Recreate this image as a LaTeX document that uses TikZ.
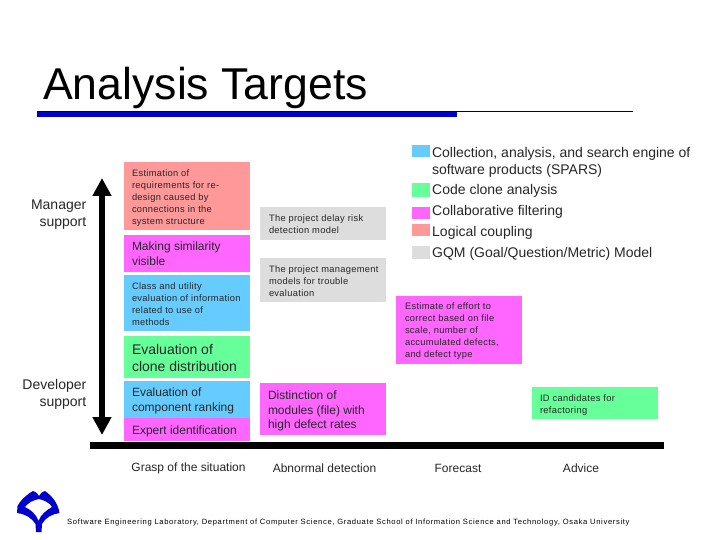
\documentclass[tikz,border=0pt]{standalone}
\usepackage{fontspec}
\setmainfont{Liberation Sans}
\usetikzlibrary{arrows.meta}
\definecolor{cpink}{HTML}{FF9999}
\definecolor{cmag}{HTML}{FF66FF}
\definecolor{cblue}{HTML}{66CCFF}
\definecolor{cgreen}{HTML}{66FF99}
\definecolor{cgray}{HTML}{DDDDDD}
\definecolor{cbar}{HTML}{0000CC}
\definecolor{cline}{HTML}{000033}
\tikzset{
 x=1pt,y=-1pt,
 tbox/.style={anchor=north west,inner sep=0pt,outer sep=0pt,text=black!85,align=left},
 small/.style={tbox,font=\fontsize{9.3}{12}\selectfont\addfontfeatures{LetterSpace=3.5}},
 large/.style={tbox,font=\fontsize{12}{15}\selectfont},
 mid/.style={tbox,font=\fontsize{12}{14.5}\selectfont},
 big/.style={tbox,font=\fontsize{14}{17}\selectfont},
 legend/.style={anchor=west,inner sep=0pt,text=black!85,align=left,font=\fontsize{14}{17}\selectfont},
 side/.style={anchor=east,inner sep=0pt,align=right,text=black!85,font=\fontsize{14}{17}\selectfont},
 axlabel/.style={anchor=center,inner sep=0pt,text=black!85,font=\fontsize{12}{14}\selectfont},
 axisline/.style={line width=7pt},
 bothway/.style={line width=5.5pt,{Triangle[length=18pt,width=18pt]}-{Triangle[length=18pt,width=18pt]}}
}
\begin{document}
\begin{tikzpicture}
\useasboundingbox (0,0) rectangle (720,540);
% title
\node[anchor=base west,inner sep=0pt,font=\fontsize{44.6}{50}\selectfont] (title) at (43,100) {Analysis Targets};
\coordinate (tl) at (37,111); \coordinate (tr) at (633,111);
\coordinate (bl) at (37,114.5); \coordinate (br) at (457,114.5);
\draw[cline,line width=0.8pt] (tl) -- (tr);
\draw[cbar,line width=5.5pt] (bl) -- (br);
% boxes column 1
\fill[cpink] (124,162) rectangle (250,230);
\fill[cmag] (124,235) rectangle (250,272);
\fill[cblue] (124,275) rectangle (250,331);
\fill[cgreen] (124,336) rectangle (250,378);
\fill[cblue] (124,381) rectangle (250,418);
\fill[cmag] (124,418) rectangle (250,441);
\node[small] (a1) at (132,170) {Estimation of\\requirements for re-\\design caused by\\connections in the\\system structure};
\node[large] (a2) at (132,242) {Making similarity\\visible};
\node[small] (a3) at (132,283) {Class and utility\\evaluation of information\\related to use of\\methods};
\node[big] (a4) at (132,344) {Evaluation of\\clone distribution};
\node[large] (a5) at (132,388) {Evaluation of\\component ranking};
\node[mid] (a6) at (132,426) {Expert identification};
% column 2
\fill[cgray] (260,207) rectangle (386,240);
\fill[cgray] (260,258) rectangle (386,302);
\fill[cmag] (260,383) rectangle (386,435);
\node[small] (b1) at (269,215) {The project delay risk\\detection model};
\node[small] (b2) at (269,266) {The project management\\models for trouble\\evaluation};
\node[mid] (b3) at (268,391) {Distinction of\\modules (file) with\\high defect rates};
% column 3, 4
\fill[cmag] (396,296) rectangle (522,364);
\node[small] (c1) at (405,303) {Estimate of effort to\\correct based on file\\scale, number of\\accumulated defects,\\and defect type};
\fill[cgreen] (532,387) rectangle (658,419);
\node[small] (d1) at (540,395) {ID candidates for\\refactoring};
% legend
\fill[cblue] (412,145) rectangle (430,157);
\fill[cgreen] (412,183) rectangle (430,197);
\fill[cmag] (412,207) rectangle (430,219);
\fill[cpink] (412,224) rectangle (430,236);
\fill[cgray] (412,246) rectangle (430,259);
\node[big] (l1) at (432,147) {Collection, analysis, and search engine of\\software products (SPARS)};
\node[legend] (l2) at (432,191) {Code clone analysis};
\node[legend] (l3) at (432,212) {Collaborative filtering};
\node[legend] (l4) at (432,233) {Logical coupling};
\node[legend] (l5) at (432,254) {GQM (Goal/Question/Metric) Model};
% side labels
\node[side] (mgr) at (86.5,214.5) {Manager\\support};
\node[side] (dev) at (86.5,394.5) {Developer\\support};
% axes
\coordinate (ut) at (102,178); \coordinate (ub) at (102,435);
\draw[bothway] (ut) -- (ub);
\coordinate (al) at (90,445.5); \coordinate (ar) at (664,445.5);
\draw[axisline] (al) -- (ar);
% bottom labels
\node[axlabel] (g1) at (188.5,468) {Grasp of the situation};
\node[axlabel] (g2) at (324.5,468) {Abnormal detection};
\node[axlabel] (g3) at (458,468) {Forecast};
\node[axlabel] (g4) at (581,468) {Advice};
% logo
\fill[cbar,even odd rule]
 (33,491) .. controls (35,491) and (37,493) .. (39,496)
 .. controls (41,493) and (43,491) .. (45,491)
 .. controls (52,496) and (58,503) .. (59.5,513)
 .. controls (52,514) and (45,518) .. (42,524)
 -- (41.5,532) -- (36,532) -- (35.5,524)
 .. controls (32,518) and (25,514) .. (17,513)
 -- (17.5,506) .. controls (20,501) and (26,495) .. (33,491) -- cycle
 (39,499) .. controls (33,500) and (28,503) .. (25,507)
 .. controls (31,510) and (36,514) .. (38.5,521)
 .. controls (41,514) and (47,510) .. (52,507)
 .. controls (50,503) and (44,500) .. (39,499) -- cycle;
% footer
\node[anchor=base west,inner sep=0pt,font=\fontsize{7.6}{9}\selectfont\addfontfeatures{LetterSpace=8.7}] (foot) at (67,524) {Software Engineering Laboratory, Department of Computer Science, Graduate School of Information Science and Technology, Osaka University};
\end{tikzpicture}
\end{document}
